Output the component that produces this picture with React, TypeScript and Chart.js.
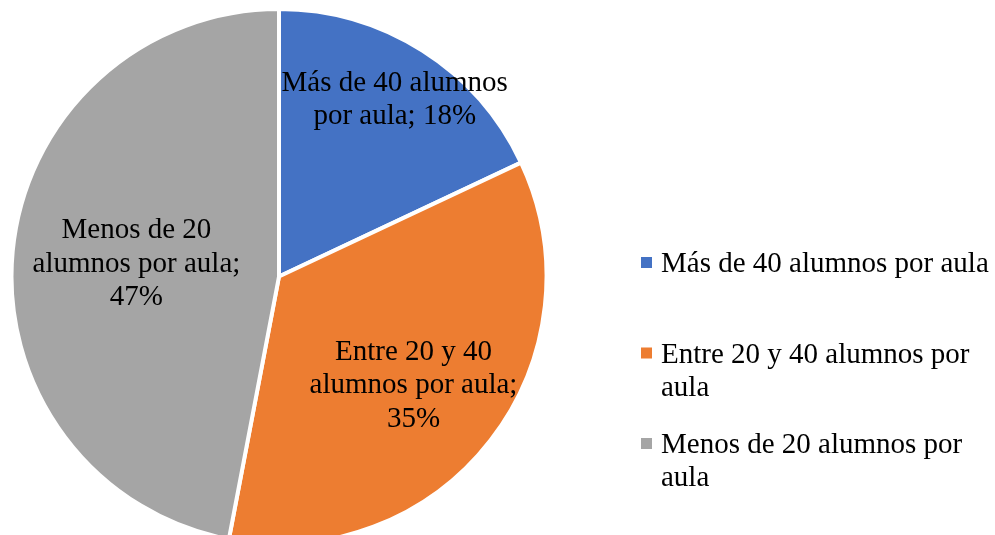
import React, { useEffect, useRef } from "react";
import { Chart, registerables } from "chart.js";

Chart.register(...registerables);

const categories = [
  "Más de 40 alumnos por aula",
  "Entre 20 y 40 alumnos por aula",
  "Menos de 20 alumnos por aula",
];
const values = [18, 35, 47];
const colors = ["#4472C4", "#ED7D31", "#A5A5A5"];
const dataLabelLines = [
  ["Más de 40 alumnos", "por aula; 18%"],
  ["Entre 20 y 40", "alumnos por aula;", "35%"],
  ["Menos de 20", "alumnos por aula;", "47%"],
];
// label placement: [angle shift in degrees, radius fraction]
const labelPlacement = [
  [0.8, 0.79],
  [1.2, 0.647],
  [-0.4, 0.535],
];

const FONT = "29px 'Liberation Serif', 'Times New Roman', serif";

function wrap(ctx: CanvasRenderingContext2D, text: string, maxW: number) {
  const words = text.split(" ");
  const lines: string[] = [];
  let cur = "";
  for (const w of words) {
    const t = cur ? cur + " " + w : w;
    if (ctx.measureText(t).width > maxW && cur) {
      lines.push(cur);
      cur = w;
    } else cur = t;
  }
  if (cur) lines.push(cur);
  return lines;
}

const overlayPlugin = {
  id: "overlay",
  afterDraw(chart: any) {
    const ctx: CanvasRenderingContext2D = chart.ctx;
    const meta = chart.getDatasetMeta(0);
    ctx.save();
    ctx.font = FONT;
    ctx.fillStyle = "#000";
    ctx.textAlign = "center";
    ctx.textBaseline = "middle";
    const lh = 33.5;
    meta.data.forEach((arc: any, i: number) => {
      const p = arc.getProps(["x", "y", "startAngle", "endAngle", "outerRadius"], true);
      const mid = (p.startAngle + p.endAngle) / 2 + (labelPlacement[i][0] * Math.PI) / 180;
      const r = p.outerRadius * labelPlacement[i][1];
      const cx = p.x + Math.cos(mid) * r;
      const cy = p.y + Math.sin(mid) * r;
      const lines = dataLabelLines[i];
      const y0 = cy - ((lines.length - 1) * lh) / 2;
      lines.forEach((l, j) => ctx.fillText(l, cx, y0 + j * lh));
    });

    // legend
    ctx.textAlign = "left";
    ctx.textBaseline = "alphabetic";
    const boxX = 641;
    const textX = 661;
    const firstBase = 272;
    const itemGap = 90.5;
    categories.forEach((c, i) => {
      const base = firstBase + i * itemGap;
      ctx.fillStyle = colors[i];
      ctx.fillRect(boxX, base - 15, 11, 11);
      ctx.fillStyle = "#000";
      const lines = wrap(ctx, c, 334);
      lines.forEach((l, j) => ctx.fillText(l, textX, base + j * 33));
    });
    ctx.restore();
  },
};

export default function App() {
  const ref = useRef<HTMLCanvasElement>(null);
  useEffect(() => {
    if (!ref.current) return;
    const chart = new Chart(ref.current, {
      type: "pie",
      data: {
        labels: categories,
        datasets: [
          {
            data: values,
            backgroundColor: colors,
            borderColor: "#FFFFFF",
            borderWidth: 4,
            clip: false as any,
          },
        ],
      },
      options: {
        animation: false,
        responsive: false,
        devicePixelRatio: 1,
        radius: 267.5,
        layout: { padding: { left: 0, right: 437, top: 18, bottom: 0 } },
        plugins: {
          legend: { display: false },
          tooltip: { enabled: false },
        },
        events: [],
      } as any,
      plugins: [overlayPlugin],
    });
    return () => chart.destroy();
  }, []);
  return (
    <div style={{ position: "fixed", left: 0, top: 0, width: 995, height: 535, background: "#fff" }}>
      <canvas ref={ref} width={995} height={535} />
    </div>
  );
}
